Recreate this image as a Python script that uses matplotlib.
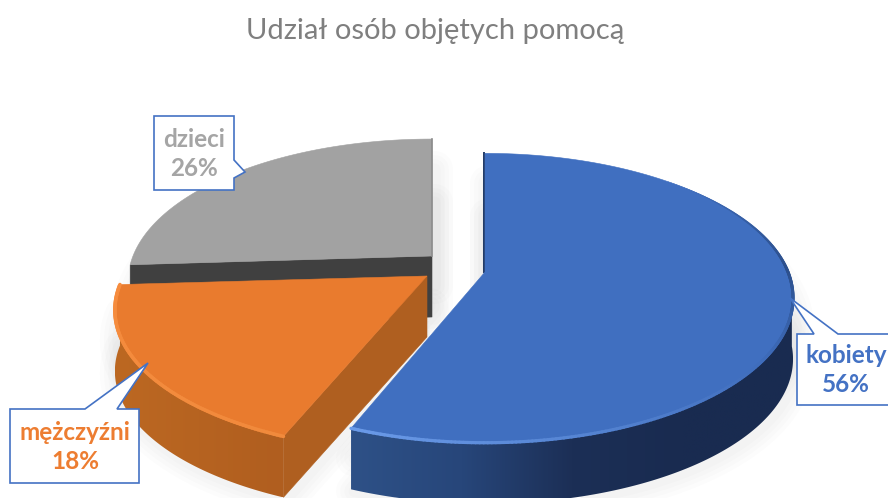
import numpy as np
import matplotlib
matplotlib.use("Agg")
import matplotlib.pyplot as plt
from matplotlib.collections import LineCollection
from matplotlib.colors import LinearSegmentedColormap, to_rgb

# data
categories = ["kobiety", "mężczyźni", "dzieci"]
shares = [56, 18, 26]
title = "Udział osób objętych pomocą"

# style / projection
apex_px = {"kobiety": (485, 272), "mężczyźni": (427, 276), "dzieci": (432, 256)}
top_col = {"kobiety": "#406FC0", "mężczyźni": "#E97B2E", "dzieci": "#A2A2A2"}
shape = {"kobiety": (303, 140, 0.18), "mężczyźni": (303, 134, 0.24), "dzieci": (299, 138, 0.18)}
DEPTH = 61

plt.rcParams["font.family"] = ["Lato", "Open Sans", "DejaVu Sans"]
fig = plt.figure(figsize=(8.88, 4.98), dpi=100)
ax = fig.add_axes([0, 0, 1, 1])
ax.axis("off")


def proj(cat, th):
    th = np.asarray(th, float)
    u, v = np.sin(th), np.cos(th)
    cx, cy = apex_px[cat]
    A, B, P = shape[cat]
    w = 1 + P * v
    return cx + A * u / w, cy - B * v / w


def mix(c1, c2, t):
    c1, c2 = np.array(to_rgb(c1)), np.array(to_rgb(c2))
    return tuple(c1 + (c2 - c1) * t)


fractions = np.array(shares, float) / np.sum(shares)
edges = np.concatenate([[0], np.cumsum(fractions)]) * 2 * np.pi
spans = {c: (edges[i], edges[i + 1]) for i, c in enumerate(categories)}
zs = {"dzieci": 3, "mężczyźni": 4, "kobiety": 5}


def top_poly(cat):
    t1, t2 = spans[cat]
    th = np.linspace(t1, t2, 200)
    x, y = proj(cat, th)
    ax_, ay_ = apex_px[cat]
    return np.r_[ax_, x], np.r_[ay_, y]


def outer_wall(cat, t1, t2, stops):
    """Side of the slice, shaded left to right with a clipped gradient image."""
    th = np.linspace(t1, t2, 200)
    x, y = proj(cat, th)
    px, py = np.r_[x, x[::-1]], np.r_[y, y[::-1] + DEPTH]
    poly = ax.fill(px, py, facecolor="none", edgecolor="none", zorder=zs[cat] + 0.15)[0]
    cmap = LinearSegmentedColormap.from_list(cat, stops)
    img = ax.imshow(np.linspace(0, 1, 256)[None, :], cmap=cmap, aspect="auto",
                    extent=(px.min(), px.max(), py.max(), py.min()), zorder=zs[cat] + 0.2)
    img.set_clip_path(poly)


def radial_wall(cat, th, col):
    x, y = proj(cat, th)
    ax_, ay_ = apex_px[cat]
    ax.fill([ax_, x, x, ax_], [ay_, y, y + DEPTH, ay_ + DEPTH],
            facecolor=col, edgecolor=col, lw=0.4, zorder=zs[cat] + 0.1)


def rim(cat, t1, t2, c_start, c_end, lw=(3.0, 3.0), n=120):
    th = np.linspace(t1, t2, n + 1)
    x, y = proj(cat, th)
    pts = np.column_stack([x, y])
    segs = np.stack([pts[:-1], pts[1:]], axis=1)
    cols = [mix(c_start, c_end, i / (n - 1)) for i in range(n)]
    ax.add_collection(LineCollection(segs, colors=cols, linewidths=np.linspace(lw[0], lw[1], n),
                                     capstyle="round", zorder=zs[cat] + 0.4))


# soft shadows
for cat in categories:
    x, y = top_poly(cat)
    for lw in (26, 20, 14, 8):
        ax.fill(x + 3, y + 30, facecolor="none", edgecolor="black", alpha=0.012, lw=lw,
                joinstyle="round", zorder=1)
        ax.fill(x + 3, y + DEPTH + 2, facecolor="none", edgecolor="black", alpha=0.012, lw=lw,
                joinstyle="round", zorder=1)

# grey slice
c = "dzieci"
radial_wall(c, spans[c][0], "#404040")
x, y = top_poly(c)
ax.fill(x, y, facecolor=top_col[c], edgecolor=top_col[c], lw=0.4, zorder=zs[c] + 0.3)
ax.plot([x[-1], x[0]], [y[-1], y[0]], color="#8C8C8C", lw=1.2, zorder=zs[c] + 0.35)

# orange slice
c = "mężczyźni"
t1, t2 = spans[c]
outer_wall(c, t1, t2, ["#BC6822", "#B05E1F"])
radial_wall(c, t1, "#AF5F20")
x, y = top_poly(c)
ax.fill(x, y, facecolor=top_col[c], edgecolor=top_col[c], lw=0.4, zorder=zs[c] + 0.3)
rim(c, t1, t2, "#F18A3C", "#F68C3E", lw=(2.6, 2.6))

# blue slice
c = "kobiety"
t1, t2 = spans[c]
outer_wall(c, np.pi * 0.53, t2, ["#2E5187", "#27467A", "#1C2F56", "#192B50", "#192B50"])
x, y = top_poly(c)
ax.fill(x, y, facecolor=top_col[c], edgecolor=top_col[c], lw=0.4, zorder=zs[c] + 0.3)
ax.plot([x[1] - 1, x[0] - 1], [y[1], y[0]], color="#1F3864", lw=1.4, zorder=zs[c] + 0.25)
rim(c, t1 + 0.75, t1 + 1.55, "#406FC0", "#2C4F8C", lw=(0.2, 2.2))
rim(c, t1 + 1.55, t1 + 2.2, "#2C4F8C", "#3F6DBC", lw=(2.2, 2.2))
rim(c, t1 + 2.2, t2, "#3F6DBC", "#6A9AE8", lw=(2.2, 2.4))

# callouts
callouts = {
    "dzieci": ([154, 234, 234, 245, 234, 234, 154], [116, 116, 160, 172, 178, 190, 190], (194, 154), "#A5A5A5"),
    "mężczyźni": ([10, 85, 148, 117, 139, 139, 10], [409, 409, 363, 409, 409, 483, 483], (75, 447), "#ED7D31"),
    "kobiety": ([797, 814, 790, 838, 890, 890, 797], [334, 334, 298, 334, 334, 405, 405], (846, 370), "#4472C4"),
}
for i, cat in enumerate(categories):
    bx, by, (tx, ty), col = callouts[cat]
    ax.fill(bx, by, facecolor="white", edgecolor="#4472C4", lw=1.2, zorder=8,
            joinstyle="miter", clip_on=True)
    ax.text(tx, ty, f"{cat}\n{shares[i]}%", color=col, fontsize=17.5, fontweight="bold",
            ha="center", va="center", linespacing=1.3, zorder=9)

ax.text(435, 31, title, color="#7F7F7F", fontsize=21, ha="center", va="center", zorder=9)

ax.set_xlim(0, 888)
ax.set_ylim(498, 0)
fig.savefig("out.png", dpi=100)
